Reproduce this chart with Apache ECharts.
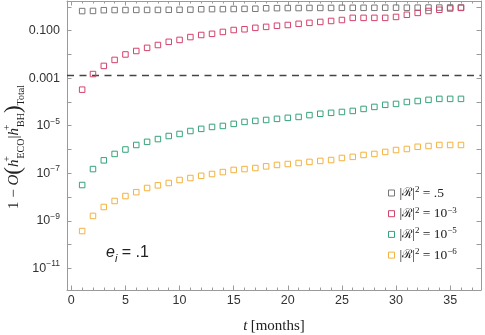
<!DOCTYPE html>
<html><head><meta charset="utf-8">
<script src="https://cdn.jsdelivr.net/npm/echarts@6/dist/echarts.min.js"></script>
<style>html,body{margin:0;padding:0;background:#fff}#c{width:485px;height:335px}</style>
</head><body><div id="c"></div>
<script>
// ---- data ----
const months = [1,2,3,4,5,6,7,8,9,10,11,12,13,14,15,16,17,18,19,20,21,22,23,24,25,26,27,28,29,30,31,32,33,34,35,36];
const seriesNames = ['|ℛ|² = .5', '|ℛ|² = 10⁻³', '|ℛ|² = 10⁻⁵', '|ℛ|² = 10⁻⁶'];
const seriesRich = [
  '{t||}{r|ℛ}{t||}{sup|2}{t| = .5}',
  '{t||}{r|ℛ}{t||}{sup|2}{t| = 10}{sup|−3}',
  '{t||}{r|ℛ}{t||}{sup|2}{t| = 10}{sup|−5}',
  '{t||}{r|ℛ}{t||}{sup|2}{t| = 10}{sup|−6}'
];
const seriesColors = ['#777777', '#d4426c', '#35a37a', '#f4b23e'];
const valsHalf = [0.67,0.68,0.73,0.74,0.74,0.75,0.75,0.75,0.76,0.76,0.77,0.80,0.81,0.81,0.82,0.83,0.84,0.88,0.89,0.90,0.90,0.91,0.91,0.91,0.92,0.92,0.92,0.92,0.93,0.93,0.93,0.93,0.94,0.94,0.95,0.95];
const valsE3 = [3.3e-4,1.5e-3,3.3e-3,5.9e-3,1.0e-2,1.4e-2,1.9e-2,2.5e-2,3.4e-2,4.1e-2,5.4e-2,6.6e-2,7.4e-2,8.9e-2,0.107,0.115,0.132,0.145,0.162,0.174,0.195,0.214,0.234,0.257,0.282,0.347,0.347,0.347,0.347,0.380,0.468,0.562,0.676,0.759,0.861,0.912];
const valsE5 = [3.2e-8,1.5e-7,3.5e-7,6.5e-7,1.0e-6,1.55e-6,2.1e-6,2.75e-6,3.7e-6,4.5e-6,6.0e-6,7.4e-6,8.9e-6,9.8e-6,1.2e-5,1.45e-5,1.6e-5,1.75e-5,1.95e-5,2.15e-5,2.35e-5,2.8e-5,3.2e-5,3.5e-5,3.8e-5,4.2e-5,5.1e-5,6.2e-5,7.6e-5,8.3e-5,1.0e-4,1.1e-4,1.23e-4,1.35e-4,1.35e-4,1.35e-4];
const valsE6 = [3.7e-10,1.6e-9,3.8e-9,6.8e-9,1.1e-8,1.6e-8,2.4e-8,3.1e-8,3.9e-8,5.2e-8,6.3e-8,7.8e-8,9.3e-8,1.12e-7,1.38e-7,1.5e-7,1.66e-7,1.95e-7,2.24e-7,2.45e-7,2.7e-7,3.0e-7,3.3e-7,3.6e-7,4.4e-7,4.9e-7,5.9e-7,6.5e-7,7.9e-7,9.5e-7,1.05e-6,1.3e-6,1.4e-6,1.55e-6,1.55e-6,1.55e-6];
const seriesValues = [valsHalf, valsE3, valsE5, valsE6];
const thresholdLine = 1.3e-3;
const xMajorTicks = [0,5,10,15,20,25,30,35];
const xMinorTicks = [1,2,3,4,6,7,8,9,11,12,13,14,16,17,18,19,21,22,23,24,26,27,28,29,31,32,33,34,36,37];
const yTicks = [1e-11,1e-10,1e-9,1e-8,1e-7,1e-6,1e-5,1e-4,1e-3,1e-2,1e-1,1];
const yLabelTicks = [1e-11,1e-9,1e-7,1e-5,1e-3,1e-1];
const xMin = -0.4, xMax = 37.85, yMin = 1.22e-12, yMax = 1.78;

// ---- chart ----
const frame = '#9a9a9a';
const SANS = 'Liberation Sans, Arial, sans-serif';
const SERIF = 'Liberation Serif, Times New Roman, DejaVu Serif, serif';
const chart = echarts.init(document.getElementById('c'), null, {renderer:'canvas'});

function xAx(pos, ticks, len, showLine, withLabels) {
  const a = {
    type:'value', min:xMin, max:xMax, position:pos,
    axisLine:{show:showLine, onZero:false, lineStyle:{color:frame, width:1}},
    axisTick:{show:true, inside:true, length:len, customValues:ticks, lineStyle:{color:frame, width:1}},
    axisLabel:{show:false},
    splitLine:{show:false}
  };
  if (withLabels) {
    a.axisLabel = {show:true, customValues:xMajorTicks, margin:4, color:'#333', fontFamily:SANS, fontSize:12.5, formatter:v=>String(Math.round(v))};
    a.name = '{i|t} {r|[months]}';
    a.nameLocation = 'middle';
    a.nameGap = 29;
    a.nameTextStyle = {rich:{
      i:{fontFamily:SERIF, fontStyle:'italic', fontSize:15, color:'#222'},
      r:{fontFamily:SERIF, fontSize:15, color:'#222'}
    }};
  }
  return a;
}
function yAx(pos, withLabels) {
  const a = {
    type:'log', logBase:10, min:yMin, max:yMax, position:pos,
    axisLine:{show:true, onZero:false, lineStyle:{color:frame, width:1}},
    axisTick:{show:true, inside:true, length:4.5, customValues:yTicks, lineStyle:{color:frame, width:1}},
    axisLabel:{show:false},
    splitLine:{show:false}, minorTick:{show:false}
  };
  if (withLabels) {
    a.axisLabel = {show:true, customValues:yLabelTicks, margin:7, color:'#333', fontFamily:SANS, fontSize:12.5,
      formatter:function(v){
        const e = Math.round(Math.log10(v));
        if (e === -1) return '{b|0.100}';
        if (e === -3) return '{b|0.001}';
        return '{b|10}{sup|−' + (-e) + '}';
      },
      rich:{
        b:{fontFamily:SANS, fontSize:12.5, color:'#333', lineHeight:18, verticalAlign:'middle'},
        sup:{fontFamily:SANS, fontSize:8.5, color:'#333', lineHeight:9, verticalAlign:'top'}
      }
    };
  }
  return a;
}

const series = seriesNames.map((nm, k) => ({
  name:nm, type:'scatter', xAxisIndex:0, yAxisIndex:0,
  symbol:'rect', symbolSize:5.5,
  itemStyle:{color:'rgba(255,255,255,0)', borderColor:seriesColors[k], borderWidth:1, opacity:1},
  emphasis:{disabled:true},
  data: months.map((t,i)=>[t, seriesValues[k][i]]),
  z: 3 + k
}));
// dashed threshold line across the full x extent
series.unshift({
  name:'threshold', type:'line', xAxisIndex:0, yAxisIndex:0,
  symbol:'none', silent:true, z:2,
  lineStyle:{type:[7,5.5], color:'#444', width:1.3},
  emphasis:{disabled:true},
  data:[[xMin, thresholdLine],[xMax, thresholdLine]]
});

chart.setOption({
  animation:false,
  backgroundColor:'#fff',
  grid:{left:67, right:4, top:1, bottom:45, containLabel:false, outerBoundsMode:'none'},
  xAxis:[xAx('bottom', xMajorTicks, 4.5, true, true), xAx('bottom', xMinorTicks, 2.5, false, false),
         xAx('top', xMajorTicks, 4.5, true, false), xAx('top', xMinorTicks, 2.5, false, false)],
  yAxis:[yAx('left', true), yAx('right', false)],
  legend:{
    orient:'vertical', left:383, top:180, itemWidth:6, itemHeight:6, itemGap:5.7,
    selectedMode:false,
    data: seriesNames.map((nm,k)=>({name:nm, icon:'rect', itemStyle:{color:'rgba(255,255,255,0)', borderColor:seriesColors[k], borderWidth:1}})),
    formatter: function(name){ return seriesRich[seriesNames.indexOf(name)]; },
    textStyle:{fontFamily:SERIF, fontSize:13.5, color:'#222', rich:{
      t:{fontFamily:SERIF, fontSize:13.5, color:'#222', lineHeight:16, verticalAlign:'middle'},
      r:{fontFamily:'DejaVu Serif, '+SERIF, fontSize:12, color:'#222', lineHeight:16, verticalAlign:'middle'},
      sup:{fontFamily:SERIF, fontSize:9, color:'#222', lineHeight:9, verticalAlign:'top'}
    }}
  },
  graphic:[
    {type:'text', x:14, y:147, rotation:Math.PI/2, silent:true, style:{
      text:'{r|1 − }{i|O}{p|(}{i|h}{sp|+}{sub|ECO}{r||}{i|h}{sp|+}{sub|BH}{p|)}{sub|Total}',
      align:'center', verticalAlign:'middle', fill:'#222',
      rich:{
        r:{fontFamily:SERIF, fontSize:15, fill:'#222', lineHeight:24, verticalAlign:'middle'},
        i:{fontFamily:SERIF, fontStyle:'italic', fontSize:15, fill:'#222', lineHeight:24, verticalAlign:'middle'},
        p:{fontFamily:SERIF, fontSize:23, fill:'#222', lineHeight:24, verticalAlign:'middle'},
        sp:{fontFamily:SERIF, fontSize:10, fill:'#222', lineHeight:11, verticalAlign:'top', width:1},
        sub:{fontFamily:SERIF, fontSize:10, fill:'#222', lineHeight:10, verticalAlign:'bottom'}
      }
    }},
    {type:'text', x:106, y:253, silent:true, style:{
      text:'{e|e}{s|i}{n| = .1}', align:'left', verticalAlign:'middle', fill:'#222',
      rich:{
        e:{fontFamily:SANS, fontStyle:'italic', fontSize:16, fill:'#222', lineHeight:22, verticalAlign:'middle'},
        s:{fontFamily:SANS, fontStyle:'italic', fontSize:11, fill:'#222', lineHeight:10, verticalAlign:'bottom'},
        n:{fontFamily:SANS, fontSize:16, fill:'#222', lineHeight:22, verticalAlign:'middle'}
      }
    }}
  ],
  series: series
});
</script>
</body></html>
